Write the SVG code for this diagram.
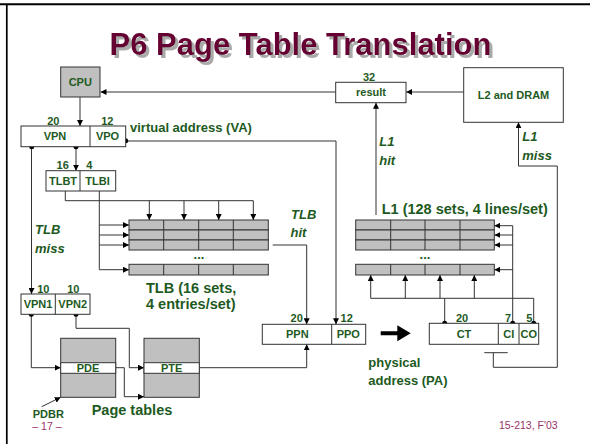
<svg xmlns="http://www.w3.org/2000/svg" width="590" height="444" viewBox="0 0 590 444">
<defs>
<marker id="ah" viewBox="0 0 10 10" refX="10" refY="5" markerWidth="6" markerHeight="6" orient="auto" markerUnits="userSpaceOnUse"><path d="M0,0 L10,5 L0,10 z" fill="#000"/></marker>
<filter id="sh" x="-5%" y="-20%" width="110%" height="140%">
<feOffset in="SourceAlpha" dx="2.5" dy="2.5" result="o"/>
<feFlood flood-color="#aaaaaa"/>
<feComposite in2="o" operator="in" result="s"/>
<feMerge><feMergeNode in="s"/><feMergeNode in="SourceGraphic"/></feMerge>
</filter>
</defs>
<style>
.t{font-family:"Liberation Sans",Arial,sans-serif;font-weight:bold;fill:#1e5a1e;}
.s11{font-size:11px;}
.s13{font-size:13px;}
.s14{font-size:14.5px;}
.i{font-style:italic;}
.box{fill:#fff;stroke:#333;stroke-width:1;}
.gray{fill:#c0c0c0;stroke:#333;stroke-width:1;}
.ln{fill:none;stroke:#333;stroke-width:1;}
.ar{fill:none;stroke:#333;stroke-width:1;marker-end:url(#ah);}
.dot{fill:#000;}
.m{text-anchor:middle;}
.foot{font-family:"Liberation Sans",Arial,sans-serif;font-size:10.5px;fill:#993366;}
</style>
<rect width="590" height="444" fill="#fff"/>
<line x1="0" y1="4.2" x2="590" y2="4.2" stroke="#000" stroke-width="2"/>
<line x1="6.8" y1="4" x2="6.8" y2="444" stroke="#000" stroke-width="1.7"/>
<g id="title">
<text x="300.5" y="55" text-anchor="middle" font-family="Liberation Sans,Arial,sans-serif" font-weight="bold" font-size="31" fill="#660033" filter="url(#sh)">P6 Page Table Translation</text>
</g>
<g id="connectors">
<line class="ar" x1="80" y1="97" x2="80" y2="126"/>
<line class="ar" x1="335.7" y1="92" x2="100.5" y2="92"/>
<line class="ar" x1="463.7" y1="92" x2="406.2" y2="92"/>
<line class="ar" x1="376" y1="215" x2="376" y2="102.7"/>
<polyline class="ar" points="557.3,367.3 557.3,166 518.5,166 518.5,122.3" />
<polyline class="ln" points="557.3,367.3 493.3,367.3 493.3,352.7"/>
<line class="ln" x1="484.3" y1="352.7" x2="507.7" y2="352.7"/>
<line class="ar" x1="76" y1="146.7" x2="76" y2="170.7"/>
<line class="ar" x1="31.5" y1="146.7" x2="31.5" y2="294"/>
<polyline class="ar" points="125.7,141 336,141 336,324.3"/>
<polyline class="ln" points="65.3,191 65.3,200.7 253.3,200.7"/>
<line class="ar" x1="149.3" y1="200.7" x2="149.3" y2="220"/>
<line class="ar" x1="184" y1="200.7" x2="184" y2="220"/>
<line class="ar" x1="218.7" y1="200.7" x2="218.7" y2="220"/>
<line class="ar" x1="253.3" y1="200.7" x2="253.3" y2="220"/>
<polyline class="ar" points="99.3,191 99.3,269.7 129,269.7"/>
<line class="ar" x1="99.3" y1="225" x2="129" y2="225"/>
<line class="ar" x1="99.3" y1="235" x2="129" y2="235"/>
<line class="ar" x1="99.3" y1="245" x2="129" y2="245"/>
<polyline class="ar" points="272.7,245 306.7,245 306.7,324.3"/>
<polyline class="ar" points="199.3,367.7 306.7,367.7 306.7,344.3"/>
<polyline class="ar" points="31.3,314.3 31.3,367.7 60.7,367.7"/>
<polyline class="ar" points="76,314.3 76,328.3 129.3,328.3 129.3,367.7 144,367.7"/>
<polyline class="ar" points="115.7,367.7 124.3,367.7 124.3,396.7 144,396.7"/>
<line class="ar" x1="41.7" y1="406.7" x2="60.7" y2="397.3"/>
<polyline class="ln" points="444.7,323.3 444.7,298.3"/>
<polyline class="ln" points="533.7,323.3 533.7,298.3 370.7,298.3"/>
<line class="ar" x1="370.7" y1="298.3" x2="370.7" y2="275"/>
<line class="ar" x1="405.3" y1="298.3" x2="405.3" y2="275"/>
<line class="ar" x1="440" y1="298.3" x2="440" y2="275"/>
<line class="ar" x1="474.3" y1="298.3" x2="474.3" y2="275"/>
<line class="ln" x1="512.7" y1="323.3" x2="512.7" y2="225.7"/>
<line class="ar" x1="512.7" y1="225.7" x2="494.3" y2="225.7"/>
<line class="ar" x1="512.7" y1="235" x2="494.3" y2="235"/>
<line class="ar" x1="512.7" y1="245" x2="494.3" y2="245"/>
<line class="ar" x1="512.7" y1="269.7" x2="494.3" y2="269.7"/>
<path d="M380.7,331.3 H397.3 V325.3 L410.7,333.3 L397.3,341.3 V335.3 H380.7 z" fill="#000"/>
<circle class="dot" cx="31.7" cy="146.7" r="2.5"/>
<circle class="dot" cx="76" cy="146.7" r="2.5"/>
<circle class="dot" cx="125.7" cy="140.7" r="2.5"/>
<circle class="dot" cx="31.3" cy="314.3" r="2.5"/>
<circle class="dot" cx="76" cy="314.3" r="2.5"/>
<circle class="dot" cx="444.7" cy="323.3" r="2.5"/>
<circle class="dot" cx="512.7" cy="323.3" r="2.5"/>
<circle class="dot" cx="533.7" cy="323.3" r="2.5"/>
</g>
<g id="cpu">
<rect class="gray" x="60.7" y="67" width="39.3" height="30"/>
<text class="t s11 m" x="80.3" y="86">CPU</text>
</g>
<g id="result">
<rect class="box" x="335.7" y="82.3" width="70.3" height="20.4"/>
<text class="t s11 m" x="369" y="81">32</text>
<text class="t s11 m" x="371" y="96">result</text>
</g>
<g id="l2">
<rect class="box" x="463.7" y="67.7" width="99.6" height="54.6"/>
<text class="t s11 m" x="513.5" y="98.5">L2 and DRAM</text>
</g>
<g id="va">
<rect class="box" x="21" y="126" width="104.7" height="20.7"/>
<line class="ln" x1="90" y1="126" x2="90" y2="146.7"/>
<text class="t s11 m" x="53.3" y="124.5">20</text>
<text class="t s11 m" x="107.3" y="124.5">12</text>
<text class="t s11 m" x="55" y="140">VPN</text>
<text class="t s11 m" x="107.5" y="140">VPO</text>
<text class="t s13" x="130" y="131.5">virtual address (VA)</text>
</g>
<g id="tlbidx">
<rect class="box" x="46" y="170.7" width="69.7" height="20.3"/>
<line class="ln" x1="80" y1="170.7" x2="80" y2="191"/>
<text class="t s11 m" x="62.7" y="168.5">16</text>
<text class="t s11 m" x="89.3" y="168.5">4</text>
<text class="t s11 m" x="63" y="184.5">TLBT</text>
<text class="t s11 m" x="97.5" y="184.5">TLBI</text>
</g>
<g id="tlb">
<rect class="gray" x="129" y="220" width="139.3" height="10"/>
<rect class="gray" x="129" y="230" width="139.3" height="10"/>
<rect class="gray" x="129" y="240" width="139.3" height="10"/>
<rect class="gray" x="129" y="264.3" width="139.3" height="10.7"/>
<path class="ln" d="M163.7,220 V250 M198.7,220 V250 M233.3,220 V250 M163.7,264.3 V275 M198.7,264.3 V275 M233.3,264.3 V275"/>
<text class="t s13 m" x="199" y="259">...</text>
<text class="t s14" x="146" y="292.7">TLB (16 sets,</text>
<text class="t s14" x="146" y="309.3">4 entries/set)</text>
</g>
<g id="labels">
<text class="t s13 i" x="35" y="234.3">TLB</text>
<text class="t s13 i" x="35" y="252.7">miss</text>
<text class="t s13 i" x="291" y="219.3">TLB</text>
<text class="t s13 i" x="290.5" y="237.3">hit</text>
<text class="t s13 i" x="379.3" y="146">L1</text>
<text class="t s13 i" x="379.3" y="165">hit</text>
<text class="t s13 i" x="522.3" y="140.5">L1</text>
<text class="t s13 i" x="522.3" y="160">miss</text>
</g>
<g id="vpn12">
<rect class="box" x="21" y="294" width="69" height="20.3"/>
<line class="ln" x1="55.3" y1="294" x2="55.3" y2="314.3"/>
<text class="t s11 m" x="43.3" y="293">10</text>
<text class="t s11 m" x="73.3" y="293">10</text>
<text class="t s11 m" x="38" y="308">VPN1</text>
<text class="t s11 m" x="72.7" y="308">VPN2</text>
</g>
<g id="pde">
<rect class="gray" x="60.7" y="338.3" width="55" height="59"/>
<rect class="box" x="60.7" y="362.7" width="55" height="10.6"/>
<text class="t s11 m" x="88" y="372">PDE</text>
</g>
<g id="pte">
<rect class="gray" x="144" y="338.3" width="55.3" height="59"/>
<rect class="box" x="144" y="362.7" width="55.3" height="10.6"/>
<text class="t s11 m" x="171.7" y="372">PTE</text>
</g>
<g id="pdbr">
<text class="t s11 m" x="48.3" y="418.3">PDBR</text>
<text class="t s14" x="91.7" y="415">Page tables</text>
</g>
<g id="pa">
<rect class="box" x="262.3" y="324.3" width="103.4" height="20"/>
<line class="ln" x1="331.7" y1="324.3" x2="331.7" y2="344.3"/>
<text class="t s11 m" x="296.7" y="321.7">20</text>
<text class="t s11 m" x="346.7" y="321.7">12</text>
<text class="t s11 m" x="297.3" y="337.7">PPN</text>
<text class="t s11 m" x="348.3" y="337.7">PPO</text>
<text class="t s13" x="368.3" y="367.3">physical</text>
<text class="t s13" x="368.3" y="385.3">address (PA)</text>
</g>
<g id="l1">
<rect class="gray" x="355.7" y="220" width="138.6" height="10"/>
<rect class="gray" x="355.7" y="230" width="138.6" height="10"/>
<rect class="gray" x="355.7" y="240" width="138.6" height="10"/>
<rect class="gray" x="355.7" y="264.3" width="138.6" height="10.7"/>
<path class="ln" d="M390.7,220 V250 M425,220 V250 M460,220 V250 M390.7,264.3 V275 M425,264.3 V275 M460,264.3 V275"/>
<text class="t s13 m" x="425" y="259">...</text>
<text class="t s14" x="381.7" y="214">L1 (128 sets, 4 lines/set)</text>
</g>
<g id="ctcico">
<rect class="box" x="429.3" y="323.3" width="109.4" height="21"/>
<line class="ln" x1="498.3" y1="323.3" x2="498.3" y2="344.3"/>
<line class="ln" x1="519" y1="323.3" x2="519" y2="344.3"/>
<text class="t s11 m" x="462" y="322">20</text>
<text class="t s11 m" x="508" y="322">7</text>
<text class="t s11 m" x="529.3" y="322">5</text>
<text class="t s11 m" x="464" y="337.7">CT</text>
<text class="t s11 m" x="508.7" y="337.7">CI</text>
<text class="t s11 m" x="528.7" y="337.7">CO</text>
</g>
<g id="footer">
<text class="foot" x="32.3" y="430">– 17 –</text>
<text class="foot" x="499" y="429">15-213, F'03</text>
</g>
</svg>
